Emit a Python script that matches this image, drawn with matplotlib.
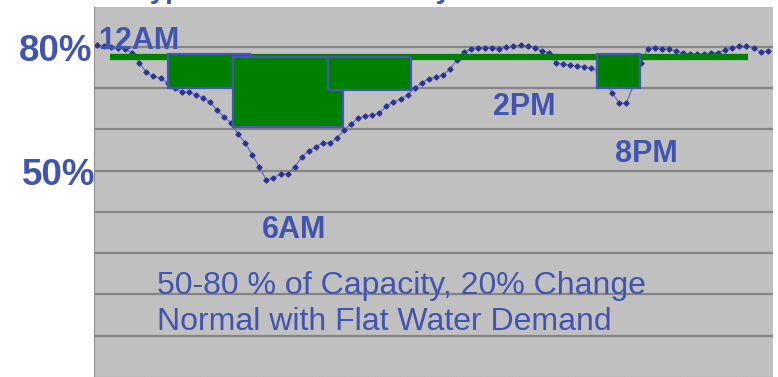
import numpy as np
import matplotlib
matplotlib.use('Agg')
import matplotlib.pyplot as plt

plt.rcParams['font.family'] = ['Liberation Sans', 'DejaVu Sans']

# уровень в баке, каждые 15 минут (0:00 .. 23:45), % от ёмкости
hours = np.arange(96) * 0.25
level = [80.4, 80.1, 79.9, 79.7, 79.4, 78.5, 76.0, 73.8, 72.8, 72.4,
         71.2, 70.0, 69.0, 69.0, 68.3, 67.6, 66.6, 64.6, 63.0, 61.5,
         58.8, 56.7, 53.8, 50.8, 47.7, 48.2, 49.2, 49.2, 50.8, 53.3,
         54.7, 55.7, 56.7, 56.7, 57.9, 59.8, 61.3, 62.7, 63.2, 63.4,
         63.9, 65.6, 66.6, 67.3, 68.3, 70.0, 71.2, 72.2, 72.6, 73.1,
         74.6, 76.8, 78.7, 79.4, 79.7, 79.7, 79.7, 79.4, 79.9, 80.1,
         80.4, 80.1, 79.7, 78.9, 78.5, 76.0, 75.8, 75.5, 75.3, 75.1,
         74.8, 74.1, 71.4, 68.8, 66.3, 66.3, 70.7, 76.0, 79.4, 79.7,
         79.4, 79.4, 78.9, 78.5, 78.2, 78.2, 78.2, 78.5, 78.5, 79.2,
         79.7, 80.1, 80.1, 79.7, 78.7, 78.9]

# плоский спрос - зелёная линия
flat_level = 77.5
flat_start, flat_end = 0.46, 23.05

# зелёные прямоугольники (часы, %)
box_start = [2.51, 4.82, 8.18, 17.71]
box_end = [5.42, 8.71, 11.12, 19.23]
box_top = [78.2, 77.5, 77.5, 78.2]
box_bottom = [70.0, 60.5, 69.5, 70.0]

# подписи времени
time_labels = ['12AM', '6AM', '2PM', '8PM']
time_x = [0.04, 5.84, 14.02, 18.34]
time_y = [81.4, 35.7, 65.4, 54.0]

y_labels = ['80%', '50%']
y_label_vals = [78.8, 48.7]

note = ['50-80 % of Capacity, 20% Change', 'Normal with Flat Water Demand']
note_y = [22.0, 13.3]

blue = '#4155B0'

fig = plt.figure(figsize=(7.78, 3.77), dpi=100)
ax = fig.add_axes([94 / 778, 0, (773 - 94) / 778, 370 / 377])
ax.set_facecolor('#C0C0C0')
ax.set_xlim(-0.106, 23.94)
ax.set_ylim(0, 89.6)

for g in range(10, 90, 10):
    ax.axhline(g, color='#858585', lw=1.6, zorder=1)

ax.plot(hours, level, color='#6272C4', lw=0.9, marker='D', ms=2.6,
        mfc='#2B3590', mec='#2B3590', zorder=2)

ax.hlines(flat_level, flat_start, flat_end, color='#008000', lw=4.5, zorder=3)

for i in range(len(box_start)):
    ax.bar(box_start[i], box_top[i] - box_bottom[i], width=box_end[i] - box_start[i],
           bottom=box_bottom[i], align='edge', color='#008000',
           edgecolor='#4356B8', linewidth=1.6, zorder=4 + i)

for i in range(len(time_labels)):
    ax.text(time_x[i], time_y[i], time_labels[i], color=blue, fontsize=22,
            fontweight='bold', ha='left', va='center', zorder=10)

label_dx = [-0.003, 0.002]
for i in range(len(y_labels)):
    ax.text(label_dx[i], y_label_vals[i], y_labels[i], transform=ax.get_yaxis_transform(),
            color=blue, fontsize=26.5, fontweight='bold', ha='right', va='center')

for i in range(len(note)):
    ax.text(2.12, note_y[i], note[i], color=blue, fontsize=23,
            ha='left', va='center', zorder=10)

# заголовок, почти обрезан сверху (как на исходной картинке)
fig.text(135 / 778, 1 + 1.5 / 377, 'Typical Tank Level Daily', color=blue,
         fontsize=20, fontweight='bold', ha='left', va='baseline')

ax.set_xticks([])
ax.set_yticks([])
for s in ['top', 'right']:
    ax.spines[s].set_visible(False)
ax.spines['left'].set_color('#909090')
ax.spines['bottom'].set_color('#707070')
ax.spines['bottom'].set_linestyle(':')

fig.savefig('out.png', dpi=100)
